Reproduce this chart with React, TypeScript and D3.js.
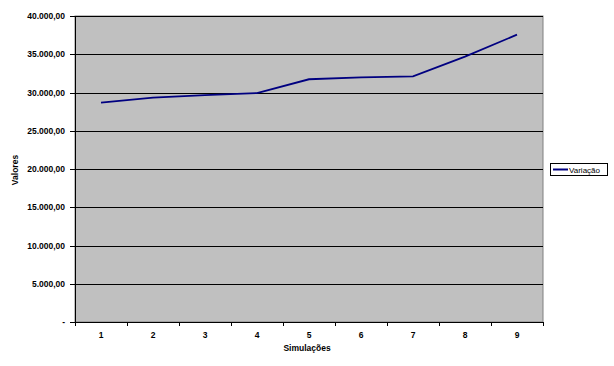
import React from "react";
import * as d3 from "d3";

const categories = ["1", "2", "3", "4", "5", "6", "7", "8", "9"];
const values = [28670, 29320, 29670, 29930, 31730, 31990, 32120, 34680, 37560];
const yTicks = [0, 5000, 10000, 15000, 20000, 25000, 30000, 35000, 40000];
const seriesName = "Variação";

const W = 614, H = 366;
const left = 75, right = 543, top = 16, bottom = 322;

function fmt(v: number) {
  if (v === 0) return "-";
  return d3.format(",.2f")(v).replace(/,/g, "#").replace(/\./g, ",").replace(/#/g, ".");
}

export default function App() {
  const x = d3.scaleBand().domain(categories).range([left, right]);
  const y = d3.scaleLinear().domain([0, 40000]).range([bottom, top]);
  const line = d3.line<number>()
    .x((_, i) => (x(categories[i]) as number) + x.bandwidth() / 2)
    .y((d) => y(d));
  const font = "'Liberation Sans', Arial, sans-serif";
  return (
    <svg width={W} height={H} style={{ position: "absolute", left: 0, top: 0, background: "#fff" }}>
      <rect x={left} y={top} width={right - left} height={bottom - top} fill="#c0c0c0" stroke="#808080" strokeWidth={1} />
      {yTicks.map((t) => (
        <g key={t}>
          {t > 0 && <line x1={left} x2={right} y1={Math.round(y(t)) + 0.5} y2={Math.round(y(t)) + 0.5} stroke="#000" strokeWidth={1} />}
          <line x1={left - 5} x2={left} y1={Math.round(y(t)) + 0.5} y2={Math.round(y(t)) + 0.5} stroke="#000" />
          <text x={65} y={y(t) + 3} textAnchor="end" fontFamily={font} fontWeight="bold" fontSize={8.5} fill="#000">{fmt(t)}</text>
        </g>
      ))}
      <line x1={left + 0.5} x2={left + 0.5} y1={top} y2={bottom} stroke="#000" />
      <line x1={left} x2={right} y1={bottom + 0.5} y2={bottom + 0.5} stroke="#000" />
      {categories.concat(["end"]).map((c, i) => {
        const xx = Math.round(left + i * x.bandwidth()) + 0.5;
        return <line key={"t" + i} x1={xx} x2={xx} y1={bottom} y2={bottom + 4} stroke="#000" />;
      })}
      {categories.map((c) => (
        <text key={c} x={(x(c) as number) + x.bandwidth() / 2} y={338} textAnchor="middle" fontFamily={font} fontWeight="bold" fontSize={8.5}>{c}</text>
      ))}
      <path d={line(values) || ""} fill="none" stroke="#000080" strokeWidth={1.8} />
      <text x={307} y={351} textAnchor="middle" fontFamily={font} fontWeight="bold" fontSize={8.5}>Simulações</text>
      <text transform="translate(18,170) rotate(-90)" textAnchor="middle" fontFamily={font} fontWeight="bold" fontSize={8.5}>Valores</text>
      <rect x={550.5} y={163.5} width={57} height={12} fill="#fff" stroke="#000" />
      <line x1={553} x2={568} y1={169.5} y2={169.5} stroke="#000080" strokeWidth={2} />
      <text x={569} y={172.5} fontFamily={font} fontSize={8}>{seriesName}</text>
    </svg>
  );
}
